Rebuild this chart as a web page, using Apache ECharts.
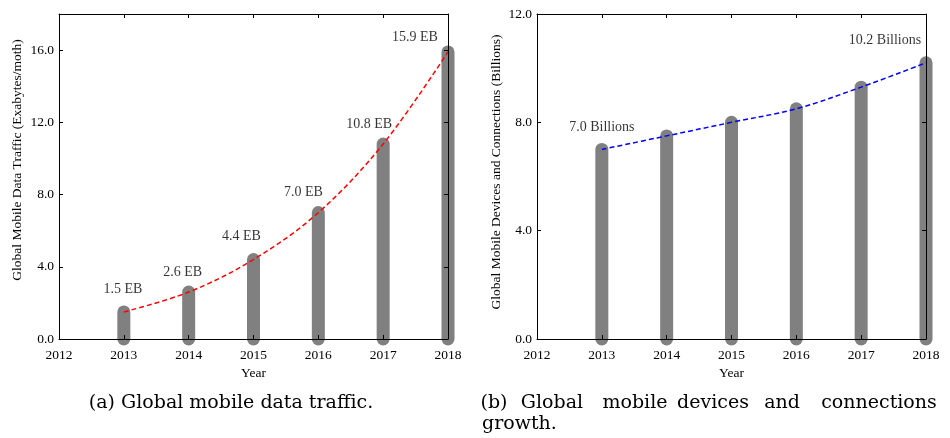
<!DOCTYPE html>
<html>
<head>
<meta charset="utf-8">
<script src="https://cdn.jsdelivr.net/npm/echarts@6/dist/echarts.min.js"></script>
<style>html,body{margin:0;padding:0;background:#fff;}#c{width:950px;height:438px;}</style>
</head>
<body>
<div id="c"></div>
<script>
// ---- data ----
var years = [2013, 2014, 2015, 2016, 2017, 2018];
var xTicks = [2012, 2013, 2014, 2015, 2016, 2017, 2018];
var trafficEB = [1.5, 2.6, 4.4, 7.0, 10.8, 15.9];
var trafficLabels = ['1.5 EB', '2.6 EB', '4.4 EB', '7.0 EB', '10.8 EB', '15.9 EB'];
var devicesB = [7.0, 7.5, 8.0, 8.5, 9.3, 10.2];
var devicesLabels = ['7.0 Billions', '', '', '', '', '10.2 Billions'];
var leftYTicks = [0, 4, 8, 12, 16];
var rightYTicks = [0, 4, 8, 12];

// ---- label offsets (styling, px) ----
var trafficLabelOffsets = [[-1, -23], [-6, -20], [-12, -23], [-15, -20], [-14, -20], [-33, -15]];
var devicesLabelOffsets = [[0, -22], [0, 0], [0, 0], [0, 0], [0, 0], [-41, -22]];

var SERIF = '"Liberation Serif", "Times New Roman", serif';
var chart = echarts.init(document.getElementById('c'), null, {renderer: 'canvas'});

function pairs(vals) { return years.map(function (y, i) { return [y, vals[i]]; }); }

function stickSeries(vals, xi, yi) {
  return {
    type: 'custom', xAxisIndex: xi, yAxisIndex: yi, z: 2, clip: false,
    data: pairs(vals),
    renderItem: function (params, api) {
      var p0 = api.coord([api.value(0), 0]);
      var p1 = api.coord([api.value(0), api.value(1)]);
      return {type: 'line', shape: {x1: p0[0], y1: p0[1], x2: p1[0], y2: p1[1]},
        style: {stroke: '#808080', lineWidth: 13, lineCap: 'round'}};
    }
  };
}
function curveSeries(vals, color, xi, yi) {
  return {
    type: 'line', xAxisIndex: xi, yAxisIndex: yi, z: 3, data: pairs(vals),
    smooth: 0.35, symbol: 'none', silent: true,
    lineStyle: {color: color, width: 1.5, type: [5, 3]}
  };
}
function labelSeries(vals, labels, offsets, xi, yi) {
  return {
    type: 'scatter', xAxisIndex: xi, yAxisIndex: yi, z: 5, symbolSize: 0, silent: true,
    data: years.map(function (y, i) {
      return {value: [y, vals[i]], label: {show: labels[i] !== '', formatter: labels[i], offset: offsets[i], color: '#000'}};
    }),
    label: {show: true, position: 'inside', align: 'center', verticalAlign: 'middle',
      fontFamily: SERIF, fontSize: 14, color: '#000'}
  };
}

var axisLine = {show: true, onZero: false, lineStyle: {color: '#000', width: 1}};
function xAxes(gi) {
  return [
    {type: 'value', gridIndex: gi, min: 2012, max: 2018, interval: 1, position: 'bottom', z: 10,
      axisLine: axisLine, axisTick: {show: true, inside: true, length: 4, lineStyle: {color: '#000'}},
      axisLabel: {margin: 9, fontFamily: SERIF, fontSize: 13.5, color: '#000', formatter: function (v) { return String(v); }},
      splitLine: {show: false},
      name: 'Year', nameLocation: 'middle', nameGap: 24,
      nameTextStyle: {fontFamily: SERIF, fontSize: 13.5, color: '#000'}},
    {type: 'value', gridIndex: gi, min: 2012, max: 2018, interval: 1, position: 'top', z: 10,
      axisLine: axisLine, axisTick: {show: true, inside: true, length: 4, lineStyle: {color: '#000'}},
      axisLabel: {show: false}, splitLine: {show: false}}
  ];
}
function yAxes(gi, max, showMax) {
  return [
    {type: 'value', gridIndex: gi, min: 0, max: max, interval: 4, position: 'left', z: 10,
      axisLine: axisLine, axisTick: {show: true, inside: true, length: 4, lineStyle: {color: '#000'}},
      axisLabel: {margin: 5, showMaxLabel: showMax, fontFamily: SERIF, fontSize: 13.5, color: '#000', formatter: function (v) { return v.toFixed(1); }},
      splitLine: {show: false}},
    {type: 'value', gridIndex: gi, min: 0, max: max, interval: 4, position: 'right', z: 10,
      axisLine: axisLine, axisTick: {show: true, inside: true, length: 4, lineStyle: {color: '#000'}},
      axisLabel: {show: false}, splitLine: {show: false}}
  ];
}

var captionFont = '19px "DejaVu Serif", serif';
var bWords = [['(b)', 494], ['Global', 552], ['mobile', 635], ['devices', 713], ['and', 782], ['connections', 879]];

var graphics = [
  {type: 'text', x: 17, y: 160, rotation: Math.PI / 2,
    style: {text: 'Global Mobile Data Traffic (Exabytes/moth)', font: '13.5px ' + SERIF, fill: '#000', align: 'center', verticalAlign: 'middle'}},
  {type: 'text', x: 496, y: 172, rotation: Math.PI / 2,
    style: {text: 'Global Mobile Devices and Connections (Billions)', font: '13.5px ' + SERIF, fill: '#000', align: 'center', verticalAlign: 'middle'}},
  {type: 'text', x: 231, y: 403,
    style: {text: '(a) Global mobile data traffic.', font: captionFont, fill: '#000', align: 'center', verticalAlign: 'middle'}},
  {type: 'text', x: 482, y: 424,
    style: {text: 'growth.', font: captionFont, fill: '#000', align: 'left', verticalAlign: 'middle'}}
];
bWords.forEach(function (w) {
  graphics.push({type: 'text', x: w[1], y: 403,
    style: {text: w[0], font: captionFont, fill: '#000', align: 'center', verticalAlign: 'middle'}});
});

chart.setOption({
  animation: false,
  backgroundColor: '#fff',
  grid: [
    {left: 59, top: 14, width: 389, height: 325, containLabel: false},
    {left: 537, top: 14, width: 389, height: 325, containLabel: false}
  ],
  xAxis: xAxes(0).concat(xAxes(1)),
  yAxis: yAxes(0, 18, false).concat(yAxes(1, 12, true)),
  series: [
    stickSeries(trafficEB, 0, 0),
    curveSeries(trafficEB, '#ff0000', 0, 0),
    labelSeries(trafficEB, trafficLabels, trafficLabelOffsets, 0, 0),
    stickSeries(devicesB, 2, 2),
    curveSeries(devicesB, '#0000ff', 2, 2),
    labelSeries(devicesB, devicesLabels, devicesLabelOffsets, 2, 2)
  ],
  graphic: graphics
});
</script>
</body>
</html>
